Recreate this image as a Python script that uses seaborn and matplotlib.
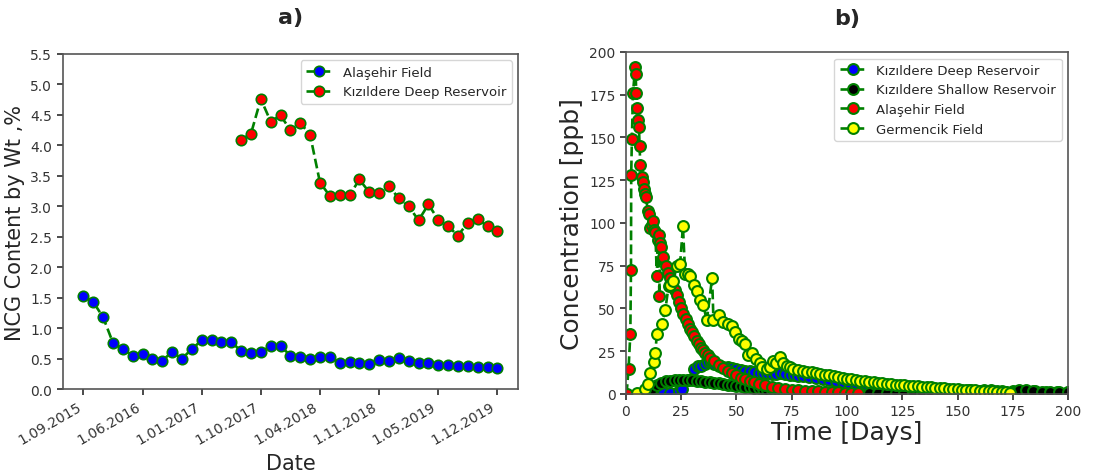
import matplotlib
matplotlib.use("Agg")
import matplotlib.pyplot as plt
import seaborn as sns

# ─────────────────────────────────────────────
# DATA
# ─────────────────────────────────────────────
# a) NCG content, one sample every index step, ticks every 6 samples
date_labels = ["1.09.2015", "1.06.2016", "1.01.2017", "1.10.2017",
               "1.04.2018", "1.11.2018", "1.05.2019", "1.12.2019"]
alasehir_idx = list(range(0, 43))
alasehir_ncg = [1.53, 1.43, 1.18, 0.76, 0.66, 0.55, 0.57, 0.49, 0.47, 0.61,
                0.50, 0.66, 0.80, 0.81, 0.77, 0.78, 0.62, 0.59, 0.61, 0.71,
                0.71, 0.55, 0.52, 0.50, 0.52, 0.53, 0.43, 0.45, 0.43, 0.41,
                0.48, 0.47, 0.51, 0.47, 0.43, 0.43, 0.40, 0.39, 0.38, 0.38,
                0.37, 0.36, 0.35]
kizildere_idx = list(range(16, 43))
kizildere_ncg = [4.09, 4.19, 4.76, 4.39, 4.49, 4.25, 4.37, 4.17, 3.39, 3.17,
                 3.18, 3.18, 3.44, 3.23, 3.22, 3.33, 3.13, 3.00, 2.77, 3.03,
                 2.78, 2.67, 2.52, 2.73, 2.79, 2.67, 2.59]

# b) tracer concentration vs time
deep_days = [14, 17, 20, 23.8, 25.2, 28, 30.6, 32.8, 34, 36, 37.3, 38.7, 40,
             42, 44, 46, 48, 50, 52, 54, 56, 58, 60, 62, 64, 66, 68, 70, 72,
             74, 76, 78, 80, 83, 86, 89, 92, 95, 98, 101, 104, 108, 112, 116,
             120, 125, 130, 135, 140, 145, 150, 155, 160, 165, 170, 175, 180,
             185, 190, 195, 200]
deep_ppb = [0, 1.4, 0.5, 2, 3, 8, 14.6, 16.6, 16.6, 17.5, 18.5, 18.7, 17.5,
            16.5, 16, 15.5, 15, 14.5, 14, 13.6, 13.2, 12.8, 12.5, 12.2, 12,
            11.8, 11.7, 12.5, 11.5, 11, 10.8, 10.5, 10.3, 10, 9.3, 8.6, 8, 7.4,
            6.9, 6.4, 6, 5.5, 5, 4.6, 4.2, 3.8, 3.4, 3.1, 2.8, 2.6, 2.4, 2.2,
            2.0, 1.9, 1.8, 1.7, 1.6, 1.5, 1.4, 1.3, 1.2]

shallow_days = [8, 10, 12, 14, 16, 18, 20, 22, 24, 26, 28, 30, 32, 34, 36,
                38, 40, 42, 44, 46, 48, 50, 52, 54, 56, 58, 60, 62, 64, 66,
                68, 70, 72, 75, 78, 82, 86, 90, 94, 98, 102, 106, 110, 114,
                118, 122, 126, 130, 134, 138, 142, 146, 150, 154, 158, 162,
                165, 168, 172, 175, 178, 181, 184, 188, 192, 196, 200]
shallow_ppb = [0, 1, 3, 5, 6.5, 7.3, 7.8, 8.1, 8.3, 8.3, 8.2, 8.0, 7.8, 7.5,
               7.2, 6.9, 6.6, 6.2, 5.9, 5.5, 5.2, 4.8, 4.5, 4.1, 3.8, 3.5, 3.2,
               2.9, 2.6, 2.4, 2.1, 1.9, 1.7, 1.5, 1.3, 1.1, 1.0, 0.9, 0.9, 0.8,
               0.8, 0.8, 0.8, 0.8, 0.8, 0.8, 0.8, 0.8, 0.8, 0.8, 0.8, 0.8, 0.8,
               0.8, 0.9, 2.2, 2.3, 2.0, 0.9, 0.9, 2.2, 2.3, 2.0, 0.9, 0.9, 0.9,
               0.9]

alasehir_days = [0.3, 1.2, 2.0, 2.3, 2.4, 2.7, 3.2, 4.2, 4.4, 4.7, 5.0, 5.3,
                 5.9, 6.2, 6.5, 7.1, 7.6, 8.3, 8.8, 9.2, 9.8, 10.5, 11.0, 11.6,
                 12.2, 12.8, 13.3, 14.0, 14.3, 14.8, 15.1, 15.5, 16, 17, 18,
                 19, 20, 21, 22, 23, 24, 25, 26, 27, 28, 29, 30, 31, 32, 33,
                 34, 35, 36, 37, 38, 40, 42, 44, 46, 48, 50, 52, 54, 56, 58,
                 60, 63, 66, 69, 72, 75, 78, 81, 84, 87, 90, 93, 96, 99, 102,
                 105]
alasehir_ppb = [0, 14.6, 35, 72.6, 128, 149, 176, 191, 187, 176, 167, 160,
                156, 145, 134, 127, 124, 120, 117, 115, 107, 105, 97, 99, 101,
                96, 95, 69, 90, 93, 57, 88, 86, 80, 75, 71, 68, 65, 61, 58, 54,
                50, 47, 44, 41, 38, 36, 34, 31, 29, 27, 25.5, 24, 22.5, 21, 19,
                17, 15, 13.5, 12, 10.8, 9.6, 8.6, 7.6, 6.8, 6.0, 5.2, 4.3, 3.6,
                3.1, 2.6, 2.3, 2.0, 1.8, 1.6, 1.4, 1.2, 1.0, 0.8, 0.6, 0.4]

germencik_days = [5, 8.7, 9.8, 11, 12.5, 13.3, 14, 16.3, 17.8, 19.3, 20, 21.5,
                  23, 24.5, 25.8, 26.8, 28, 29, 30.6, 32, 33.6, 35, 36.6, 39,
                  39.6, 41.9, 44, 46.4, 47.9, 49.4, 51, 52.5, 54, 55.4, 57,
                  59, 60.5, 61.5, 63.7, 65, 66.7, 68, 69.7, 71, 72.7, 74, 75.8,
                  78, 80, 82, 84, 86, 88, 90, 92, 94, 96, 98, 100, 102, 104,
                  106, 108, 110, 112, 114, 116, 118, 120, 122, 124, 126, 128,
                  130, 132, 134, 136, 138, 140, 142, 144, 146, 148, 150, 152,
                  154, 156, 158, 160, 162, 164, 166, 168, 170, 172, 173.5]
germencik_ppb = [0.5, 3, 6, 12, 18.5, 24, 35, 41, 49, 63, 64, 66, 75, 76, 98,
                 70, 70, 69, 64, 60, 55, 52, 43, 68, 43, 46, 42, 41, 40, 36,
                 32, 31, 29, 23, 24, 20.5, 18, 15.6, 14.6, 16, 19.5, 18, 21.5,
                 18, 16.6, 15.5, 14.6, 14.0, 13.5, 13.0, 12.6, 12.2, 11.7,
                 11.3, 10.8, 10.3, 9.8, 9.3, 8.9, 8.5, 8.1, 7.7, 7.4, 7.1, 6.8,
                 6.5, 6.2, 6.0, 5.8, 5.5, 5.3, 5.1, 4.8, 4.6, 4.4, 4.2, 4.0,
                 3.8, 3.6, 3.4, 3.2, 3.0, 2.9, 2.7, 2.6, 2.4, 2.2, 2.1, 1.9,
                 1.8, 1.6, 1.5, 1.3, 1.2, 1.0, 0.5]

LINE_GREEN = "green"


def draw_series(ax, x, y, face, label, ms, mew=1.2):
    sns.lineplot(x=x, y=y, ax=ax, estimator=None, sort=False,
                 color=LINE_GREEN, linestyle="--", lw=1.9,
                 marker="o", markersize=ms, markerfacecolor=face,
                 markeredgecolor=LINE_GREEN, markeredgewidth=mew,
                 label=label, legend=False)


def style_axes(ax):
    for spine in ax.spines.values():
        spine.set_visible(True)
        spine.set_edgecolor("#555555")
        spine.set_linewidth(1.2)
    ax.tick_params(colors="#333333", labelsize=10, length=4)


# ─────────────────────────────────────────────
# FIGURE
# ─────────────────────────────────────────────
sns.set_theme(style="ticks")
plt.rcParams["font.family"] = ["DejaVu Sans"]

fig = plt.figure(figsize=(11, 4.77), dpi=100)
ax1 = fig.add_axes([0.057, 0.182, 0.414, 0.703])
ax2 = fig.add_axes([0.569, 0.172, 0.402, 0.717])

# ── a) ───────────────────────────────────────
draw_series(ax1, alasehir_idx, alasehir_ncg, "blue", "Alaşehir Field", 7.5)
draw_series(ax1, kizildere_idx, kizildere_ncg, "red",
            "Kızıldere Deep Reservoir", 7.5)
ax1.set_ylim(0, 5.5)
ax1.set_yticks([i * 0.5 for i in range(12)])
ax1.set_yticklabels([f"{i * 0.5:.1f}" for i in range(12)])
ax1.set_xlim(-2.1, 44.1)
ax1.set_xticks(list(range(0, 43, 6)))
ax1.set_xticklabels(date_labels, rotation=30, ha="right")
ax1.set_xlabel("Date", fontsize=15)
ax1.set_ylabel("NCG Content by Wt ,%", fontsize=15)
ax1.set_title("a)", fontsize=16, fontweight="bold", pad=22)
ax1.legend(loc="upper right", fontsize=9.5, frameon=True)
style_axes(ax1)

# ── b) ───────────────────────────────────────
draw_series(ax2, deep_days, deep_ppb, "blue", "Kızıldere Deep Reservoir",
            7.8, 1.5)
draw_series(ax2, shallow_days, shallow_ppb, "black",
            "Kızıldere Shallow Reservoir", 7.8, 1.5)
draw_series(ax2, alasehir_days, alasehir_ppb, "red", "Alaşehir Field",
            7.8, 1.5)
draw_series(ax2, germencik_days, germencik_ppb, "yellow", "Germencik Field",
            7.8, 1.5)
ax2.set_xlim(0, 200)
ax2.set_ylim(0, 200)
ax2.set_xticks(range(0, 201, 25))
ax2.set_yticks(range(0, 201, 25))
ax2.set_xlabel("Time [Days]", fontsize=18, labelpad=1)
ax2.set_ylabel("Concentration [ppb]", fontsize=18)
ax2.set_title("b)", fontsize=16, fontweight="bold", pad=20)
ax2.legend(loc="upper right", fontsize=9.5, frameon=True)
style_axes(ax2)

fig.savefig("out.png", dpi=100)
plt.close(fig)
